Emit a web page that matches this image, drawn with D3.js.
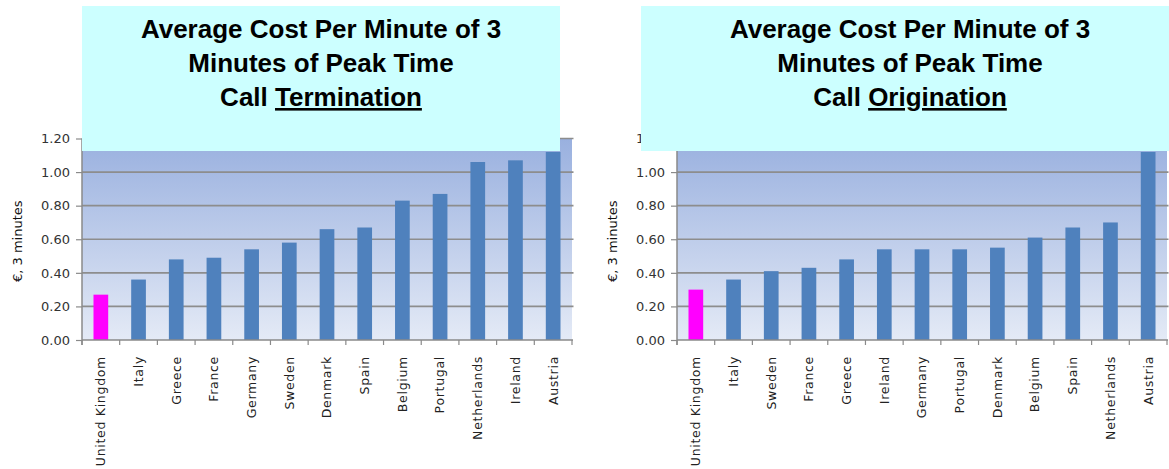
<!DOCTYPE html>
<html>
<head>
<meta charset="utf-8">
<script src="https://cdn.jsdelivr.net/npm/d3@7/dist/d3.min.js"></script>
<style>
  html, body { margin: 0; padding: 0; background: #ffffff; }
  svg { display: block; }
</style>
</head>
<body>
<svg id="chart" width="1169" height="469"></svg>
<script>
// Average cost of a 3-minute peak-time call, EUR
const terminationCountries = ["United Kingdom", "Italy", "Greece", "France", "Germany", "Sweden",
  "Denmark", "Spain", "Belgium", "Portugal", "Netherlands", "Ireland", "Austria"];
const terminationValues = [0.27, 0.36, 0.48, 0.49, 0.54, 0.58, 0.66, 0.67, 0.83, 0.87, 1.06, 1.07, 1.12];

const originationCountries = ["United Kingdom", "Italy", "Sweden", "France", "Greece", "Ireland",
  "Germany", "Portugal", "Denmark", "Belgium", "Spain", "Netherlands", "Austria"];
const originationValues = [0.30, 0.36, 0.41, 0.43, 0.48, 0.54, 0.54, 0.54, 0.55, 0.61, 0.67, 0.70, 1.12];

const yTickValues = [0, 0.2, 0.4, 0.6, 0.8, 1.0, 1.2];
const highlightCountry = "United Kingdom";
const axisTitle = "€, 3 minutes";
const titleLines = ["Average Cost Per Minute of 3", "Minutes of Peak Time", "Call "];

const svg = d3.select("#chart");

const defs = svg.append("defs");
const grad = defs.append("linearGradient")
  .attr("id", "plotBg").attr("x1", 0).attr("y1", 0).attr("x2", 0).attr("y2", 1);
grad.append("stop").attr("offset", "0%").attr("stop-color", "#99b0df");
grad.append("stop").attr("offset", "100%").attr("stop-color", "#e4eaf6");

function drawChart(opts) {
  const { left, right, top, bottom, countries, values, titleWord, box, axisTitleX } = opts;
  const g = svg.append("g");

  const x = d3.scaleBand().domain(countries).range([left, right])
    .paddingInner(0.61).paddingOuter(0.305);
  const y = d3.scaleLinear().domain([0, 1.2]).range([bottom, top]);

  // plot background
  g.append("rect")
    .attr("x", left).attr("y", top)
    .attr("width", right - left).attr("height", bottom - top)
    .attr("fill", "url(#plotBg)");

  // horizontal gridlines
  g.selectAll("line.grid").data(yTickValues.filter(v => v > 0)).join("line")
    .attr("class", "grid")
    .attr("x1", left).attr("x2", right + 1.5)
    .attr("y1", d => y(d)).attr("y2", d => y(d))
    .attr("stroke", "#8d8d8d").attr("stroke-width", 1.6);

  // bars
  g.selectAll("rect.bar").data(countries.map((c, i) => ({ c, v: values[i] }))).join("rect")
    .attr("class", "bar")
    .attr("x", d => x(d.c)).attr("width", x.bandwidth())
    .attr("y", d => y(d.v)).attr("height", d => bottom - y(d.v))
    .attr("fill", d => d.c === highlightCountry ? "#ff00ff" : "#4f81bd");

  // y axis
  const yAxis = d3.axisLeft(y).tickValues(yTickValues).tickFormat(d3.format(".2f"))
    .tickSize(6).tickPadding(6);
  const ya = g.append("g").attr("transform", `translate(${left},0)`).call(yAxis);
  ya.select(".domain").attr("stroke", "#8a8a8a").attr("stroke-width", 1.5)
    .attr("d", `M0,${top}V${bottom + 5}`);
  ya.selectAll(".tick line").attr("stroke", "#8a8a8a").attr("stroke-width", 1.2);
  ya.selectAll(".tick text")
    .attr("fill", "#333").style("font-family", "'DejaVu Sans', Verdana, sans-serif")
    .style("font-size", "13px");

  // x axis line and category boundary ticks
  const step = x.step();
  const boundaries = d3.range(countries.length + 1).map(i => left + i * step);
  g.append("line")
    .attr("x1", left).attr("x2", right + 1)
    .attr("y1", bottom).attr("y2", bottom)
    .attr("stroke", "#8a8a8a").attr("stroke-width", 1.5);
  g.selectAll("line.xtick").data(boundaries).join("line")
    .attr("class", "xtick")
    .attr("x1", d => d).attr("x2", d => d)
    .attr("y1", bottom).attr("y2", bottom + 5)
    .attr("stroke", "#8a8a8a").attr("stroke-width", 1.2);

  // category labels
  g.selectAll("text.cat").data(countries).join("text")
    .attr("class", "cat")
    .attr("transform", d => `translate(${x(d) + x.bandwidth() / 2},${bottom + 16}) rotate(-90)`)
    .attr("text-anchor", "end").attr("dy", "0.35em")
    .attr("fill", "#222")
    .style("font-family", "'DejaVu Sans', Verdana, sans-serif")
    .style("font-size", "12.5px").style("letter-spacing", "0.7px")
    .text(d => d);

  // value axis title
  g.append("text")
    .attr("transform", `translate(${axisTitleX},${(top + bottom) / 2 + 2}) rotate(-90)`)
    .attr("text-anchor", "middle").attr("dy", "0.35em")
    .attr("fill", "#111")
    .style("font-family", "'DejaVu Sans', Verdana, sans-serif")
    .style("font-size", "13px")
    .text(axisTitle);

  // title box
  g.append("rect")
    .attr("x", box.x).attr("y", box.y).attr("width", box.w).attr("height", box.h)
    .attr("fill", "#ccffff");
  const cx = box.x + box.w / 2;
  const baselines = [37.5, 71.5, 106];
  titleLines.forEach((line, i) => {
    const t = g.append("text")
      .attr("x", cx).attr("y", baselines[i])
      .attr("text-anchor", "middle")
      .attr("fill", "#000")
      .style("font-family", "'Liberation Sans', Arial, sans-serif")
      .style("font-weight", "bold").style("font-size", "26px");
    t.append("tspan").text(line);
    if (i === 2) {
      t.append("tspan").style("text-decoration", "underline").text(titleWord);
    }
  });
}

drawChart({
  left: 82, right: 572, top: 138.5, bottom: 340,
  countries: terminationCountries, values: terminationValues,
  titleWord: "Termination", axisTitleX: 17,
  box: { x: 82, y: 6, w: 478, h: 145 }
});

drawChart({
  left: 677, right: 1167, top: 138.5, bottom: 340,
  countries: originationCountries, values: originationValues,
  titleWord: "Origination", axisTitleX: 612,
  box: { x: 641, y: 6, w: 538, h: 145 }
});
</script>
</body>
</html>
